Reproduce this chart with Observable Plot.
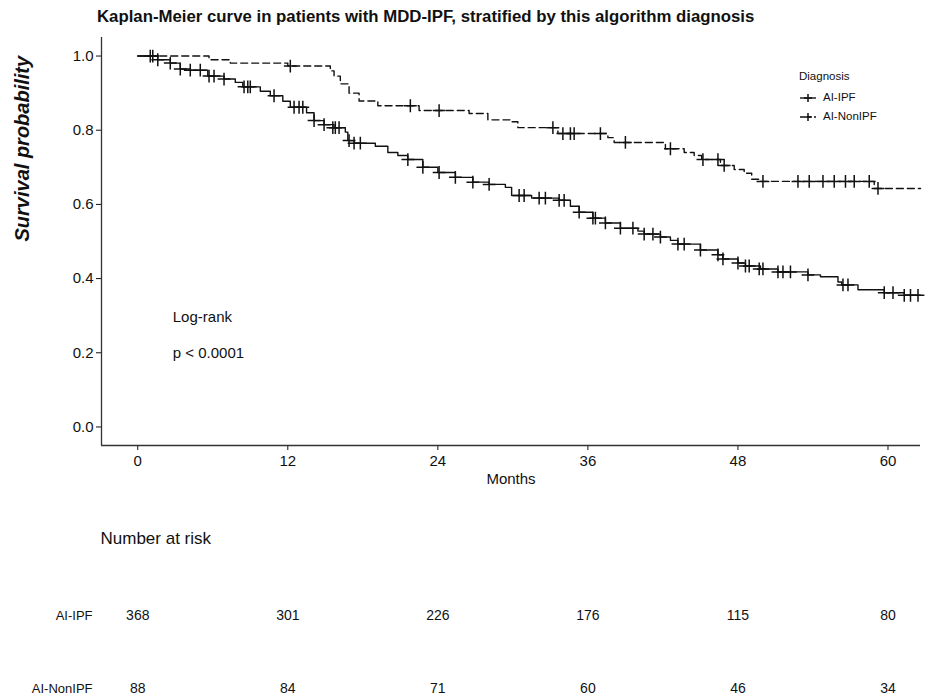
<!DOCTYPE html>
<html><head><meta charset="utf-8">
<script src="https://cdn.jsdelivr.net/npm/d3@7"></script>
<script src="https://cdn.jsdelivr.net/npm/@observablehq/plot@0.6"></script>
<style>
body{margin:0;background:#fff;font-family:"Liberation Sans",Arial,sans-serif;color:#111;}
#wrap{position:relative;width:928px;height:695px;overflow:hidden;background:#fff;}
#title{position:absolute;left:97px;top:7px;font-weight:bold;font-size:16.8px;white-space:nowrap;}
#legend{position:absolute;left:799px;top:67px;font-size:11.5px;line-height:19px;}
#legend .row{display:flex;align-items:center;gap:6px;}
#legend svg{display:block}
#main,#risk{position:absolute;left:0;}
#main{top:0}#risk{top:495px}
</style></head><body><div id="wrap">
<div id="title"></div>
<div id="main"></div>
<div id="risk"></div>
<div id="legend"></div>
</div><script>
const titleText = "Kaplan-Meier curve in patients with MDD-IPF, stratified by this algorithm diagnosis";
const groups = ["AI-IPF", "AI-NonIPF"];
const legendTitle = "Diagnosis";
const months = [0, 12, 24, 36, 48, 60];
const yTicks = [0, 0.2, 0.4, 0.6, 0.8, 1.0];
const riskIPF = [368, 301, 226, 176, 115, 80];
const riskNonIPF = [88, 84, 71, 60, 46, 34];
const pvalLines = ["Log-rank", "p < 0.0001"];
const pvalX = 2.8;
const pvalY = [0.295, 0.2];

// AI-IPF step curve (time in months, survival)
const ipfTime = [0, 1.6, 2.6, 3.4, 4.2, 5.6, 6.9, 7.8, 8.4, 9.8, 10.6, 11.6, 12.2, 13.5, 14.1, 14.9, 15.7, 16.6, 16.8, 17.3, 19.0, 20.0, 20.8, 21.6, 22.8, 24.0, 25.4, 26.8, 28.1, 29.4, 29.9, 31.5, 33.7, 34.6, 35.3, 36.4, 37.4, 38.6, 40.0, 40.5, 41.8, 42.6, 43.2, 45.0, 46.4, 46.8, 48.0, 48.6, 49.8, 51.2, 53.6, 54.6, 56.0, 56.3, 57.6, 59.7, 61.3];
const ipfSurv = [1.0, 0.99, 0.981, 0.965, 0.962, 0.946, 0.938, 0.929, 0.917, 0.905, 0.893, 0.878, 0.862, 0.847, 0.826, 0.815, 0.807, 0.795, 0.772, 0.765, 0.757, 0.74, 0.732, 0.721, 0.70, 0.686, 0.673, 0.66, 0.654, 0.646, 0.624, 0.617, 0.611, 0.595, 0.579, 0.563, 0.55, 0.536, 0.528, 0.52, 0.512, 0.503, 0.493, 0.477, 0.464, 0.453, 0.442, 0.434, 0.426, 0.418, 0.41, 0.405, 0.391, 0.383, 0.37, 0.362, 0.355];
const ipfCensTime = [1.0, 1.2, 1.6, 2.6, 3.4, 4.2, 5.0, 5.7, 6.1, 6.9, 8.5, 8.8, 9.0, 10.9, 12.5, 12.9, 13.2, 14.1, 14.9, 15.6, 15.8, 16.1, 16.9, 17.3, 17.8, 21.6, 22.8, 24.1, 25.4, 26.8, 28.1, 30.5, 30.9, 32.1, 32.6, 33.7, 34.1, 35.3, 36.4, 36.6, 37.4, 38.6, 39.6, 40.5, 41.2, 41.8, 43.2, 43.7, 45.0, 46.4, 46.8, 48.0, 48.6, 48.9, 49.7, 50.0, 51.2, 51.6, 52.2, 53.6, 56.4, 56.8, 59.7, 60.4, 61.3, 61.8, 62.4];
const ipfCensSurv = [1.0, 1.0, 0.99, 0.981, 0.965, 0.962, 0.962, 0.946, 0.946, 0.938, 0.917, 0.917, 0.917, 0.893, 0.862, 0.862, 0.862, 0.826, 0.815, 0.807, 0.807, 0.807, 0.772, 0.765, 0.765, 0.721, 0.70, 0.686, 0.673, 0.66, 0.654, 0.624, 0.624, 0.617, 0.617, 0.611, 0.611, 0.579, 0.563, 0.563, 0.55, 0.536, 0.536, 0.52, 0.52, 0.512, 0.493, 0.493, 0.477, 0.464, 0.453, 0.442, 0.434, 0.434, 0.426, 0.426, 0.418, 0.418, 0.418, 0.41, 0.383, 0.383, 0.362, 0.362, 0.355, 0.355, 0.355];

// AI-NonIPF step curve
const nonTime = [0, 5.7, 7.4, 12.0, 15.4, 15.7, 16.2, 16.9, 17.7, 19.2, 22.5, 26.5, 28.0, 29.9, 30.4, 33.6, 37.6, 38.1, 42.2, 43.7, 44.5, 45.1, 46.6, 47.7, 48.5, 49.1, 49.8, 58.9];
const nonSurv = [1.0, 0.99, 0.981, 0.973, 0.96, 0.946, 0.925, 0.90, 0.879, 0.866, 0.853, 0.845, 0.828, 0.823, 0.807, 0.791, 0.78, 0.767, 0.75, 0.74, 0.732, 0.721, 0.705, 0.694, 0.684, 0.668, 0.662, 0.643];
const nonCensTime = [12.2, 21.8, 24.1, 33.2, 34.0, 34.6, 34.9, 37.0, 39.0, 42.6, 45.2, 46.4, 46.9, 50.0, 52.8, 53.7, 54.8, 55.7, 56.6, 57.3, 58.5, 59.2];
const nonCensSurv = [0.973, 0.866, 0.853, 0.807, 0.791, 0.791, 0.791, 0.791, 0.767, 0.75, 0.721, 0.721, 0.705, 0.662, 0.662, 0.662, 0.662, 0.662, 0.662, 0.662, 0.662, 0.643];

const xDomain = [-2.9, 62.6];
const yDomain = [-0.05, 1.05];
const FONT = '"Liberation Sans", Arial, sans-serif';

const ipfLine = [...ipfTime.map((t, i) => ({t, s: ipfSurv[i]})), {t: xDomain[1], s: ipfSurv[ipfSurv.length - 1]}];
const nonLine = [...nonTime.map((t, i) => ({t, s: nonSurv[i]})), {t: xDomain[1], s: nonSurv[nonSurv.length - 1]}];
const censData = [
  ...ipfCensTime.map((t, i) => ({t, s: ipfCensSurv[i], g: groups[0]})),
  ...nonCensTime.map((t, i) => ({t, s: nonCensSurv[i], g: groups[1]}))
];

document.getElementById("title").textContent = titleText;

const main = Plot.plot({
  width: 928, height: 495,
  marginLeft: 101, marginRight: 8, marginTop: 37, marginBottom: 50,
  style: {fontFamily: FONT, fontSize: "15px", color: "#111", background: "transparent"},
  x: {domain: xDomain},
  y: {domain: yDomain},
  marks: [
    Plot.axisX({ticks: months, tickFormat: d => String(d), tickSize: 5, tickPadding: 5, label: null, fontSize: 15}),
    Plot.axisY({ticks: yTicks, tickFormat: d3.format(".1f"), tickSize: 5, tickPadding: 3, label: null, fontSize: 15}),
    Plot.ruleY([yDomain[0]], {stroke: "#333", strokeWidth: 1.3}),
    Plot.ruleX([xDomain[0]], {stroke: "#333", strokeWidth: 1.3}),
    Plot.text(["Months"], {frameAnchor: "bottom", dy: 38, fontSize: 15}),
    Plot.text(["Survival probability"], {frameAnchor: "left", dx: -79, rotate: -90, fontSize: 20, fontWeight: "bold", fontStyle: "italic"}),
    Plot.text(pvalLines, {x: () => pvalX, y: (d, i) => pvalY[i], text: d => d, textAnchor: "start", fontSize: 15}),
    Plot.line(ipfLine, {x: "t", y: "s", curve: "step-after", stroke: "#111", strokeWidth: 1.4}),
    Plot.line(nonLine, {x: "t", y: "s", curve: "step-after", stroke: "#111", strokeWidth: 1.4, strokeDasharray: "7,4"}),
    Plot.dot(censData, {x: "t", y: "s", symbol: "plus", r: 4.2, stroke: "#111", strokeWidth: 1.5})
  ]
});
document.getElementById("main").appendChild(main);

// Risk table
const riskRows = [
  ...months.map((m, i) => ({m, g: groups[0], n: riskIPF[i]})),
  ...months.map((m, i) => ({m, g: groups[1], n: riskNonIPF[i]}))
];
const risk = Plot.plot({
  width: 928, height: 200,
  marginLeft: 101, marginRight: 8, marginTop: 0, marginBottom: 0,
  style: {fontFamily: FONT, fontSize: "13px", color: "#111", background: "transparent"},
  x: {domain: xDomain, axis: null},
  y: {type: "point", domain: groups, range: [120, 193], padding: 0, axis: null},
  marks: [
    Plot.axisY({tickSize: 0, tickPadding: 9, label: null, fontSize: 13}),
    Plot.text(["Number at risk"], {frameAnchor: "top-left", dy: 36, dx: -1, textAnchor: "start", fontSize: 17}),
    Plot.text(riskRows, {x: "m", y: "g", text: d => String(d.n), fontSize: 14})
  ]
});
document.getElementById("risk").appendChild(risk);

// Legend
const leg = d3.select("#legend");
leg.append("div").text(legendTitle).style("margin-bottom", "2px");
groups.forEach((g, i) => {
  const row = leg.append("div").attr("class", "row");
  const svg = row.append("svg").attr("width", 18).attr("height", 12);
  svg.append("line").attr("x1", 1).attr("x2", 17).attr("y1", 6).attr("y2", 6)
    .attr("stroke", "#111").attr("stroke-width", 1.4).attr("stroke-dasharray", i ? "4,3" : null);
  svg.append("path").attr("d", "M5,6H13M9,2V10").attr("stroke", "#111").attr("stroke-width", 1.5);
  row.append("span").text(g);
});
</script></body></html>
